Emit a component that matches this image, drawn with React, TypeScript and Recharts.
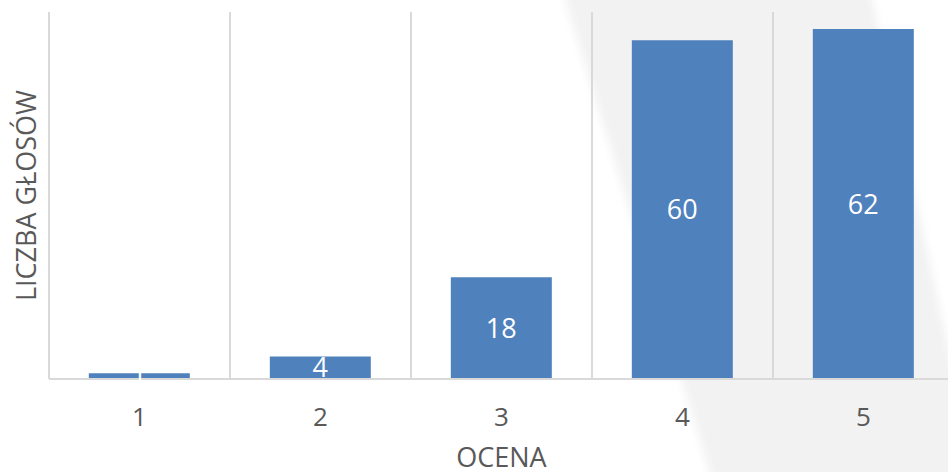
import React from "react";
import {
  BarChart,
  Bar,
  XAxis,
  YAxis,
  CartesianGrid,
  LabelList,
} from "recharts";

const categories = ["1", "2", "3", "4", "5"];
const votes = [1, 4, 18, 60, 62];
const yDomain = [0, 65];

const data = categories.map((name, i) => ({ name, votes: votes[i] }));

const FONT = '"Open Sans", sans-serif';
const TEXT = "#595959";
const GRID = "#d9d9d9";

const renderTick = (props: any) => {
  const { x, y, payload } = props;
  return (
    <text
      x={x}
      y={y + 37}
      textAnchor="middle"
      dominantBaseline="central"
      fill={TEXT}
      fontSize={26}
      fontFamily={FONT}
    >
      {payload.value}
    </text>
  );
};

export default function App() {
  return (
    <div
      style={{
        position: "relative",
        width: 948,
        height: 472,
        overflow: "hidden",
        background: "#fff",
      }}
    >
      <style>{"body { margin: 0; }"}</style>
      {/* watermark shape behind the chart */}
      <svg
        width={948}
        height={472}
        style={{ position: "absolute", left: 0, top: 0 }}
      >
        <defs>
          <filter id="soft">
            <feGaussianBlur stdDeviation="4" />
          </filter>
        </defs>
        <polygon
          points="562,-10 870,-10 960,400 960,480 712,480"
          fill="#f2f2f2"
          filter="url(#soft)"
        />
      </svg>
      <div style={{ position: "absolute", left: 0, top: 0 }}>
        <BarChart
          width={960}
          height={472}
          data={data}
          margin={{ top: 12, right: 6, bottom: 0, left: 0 }}
          barCategoryGap="22%"
        >
          <CartesianGrid
            horizontal={false}
            stroke={GRID}
            strokeWidth={2}
            verticalCoordinatesGenerator={({ offset }: any) =>
              categories
                .concat([""])
                .map(
                  (_, i) =>
                    offset.left + (i * offset.width) / categories.length
                )
            }
          />
          <XAxis
            dataKey="name"
            height={93}
            axisLine={{ stroke: GRID, strokeWidth: 2 }}
            tickLine={false}
            tickSize={0}
            tickMargin={0}
            tick={renderTick}
            label={{
              value: "OCENA",
              position: "insideBottom",
              offset: 5,
              fill: TEXT,
              fontSize: 27,
              fontFamily: FONT,
            }}
          />
          <YAxis
            width={49}
            domain={yDomain}
            axisLine={false}
            tickLine={false}
            tick={false}
            label={{
              value: "LICZBA GŁOSÓW",
              angle: -90,
              position: "center",
              dx: 2,
              fill: TEXT,
              fontSize: 27,
              fontFamily: FONT,
            }}
          />
          <Bar dataKey="votes" fill="#4f81bd" isAnimationActive={false}>
            <LabelList
              dataKey="votes"
              position="center"
              fill="#ffffff"
              fontSize={27}
              fontFamily={FONT}
            />
          </Bar>
        </BarChart>
      </div>
    </div>
  );
}
